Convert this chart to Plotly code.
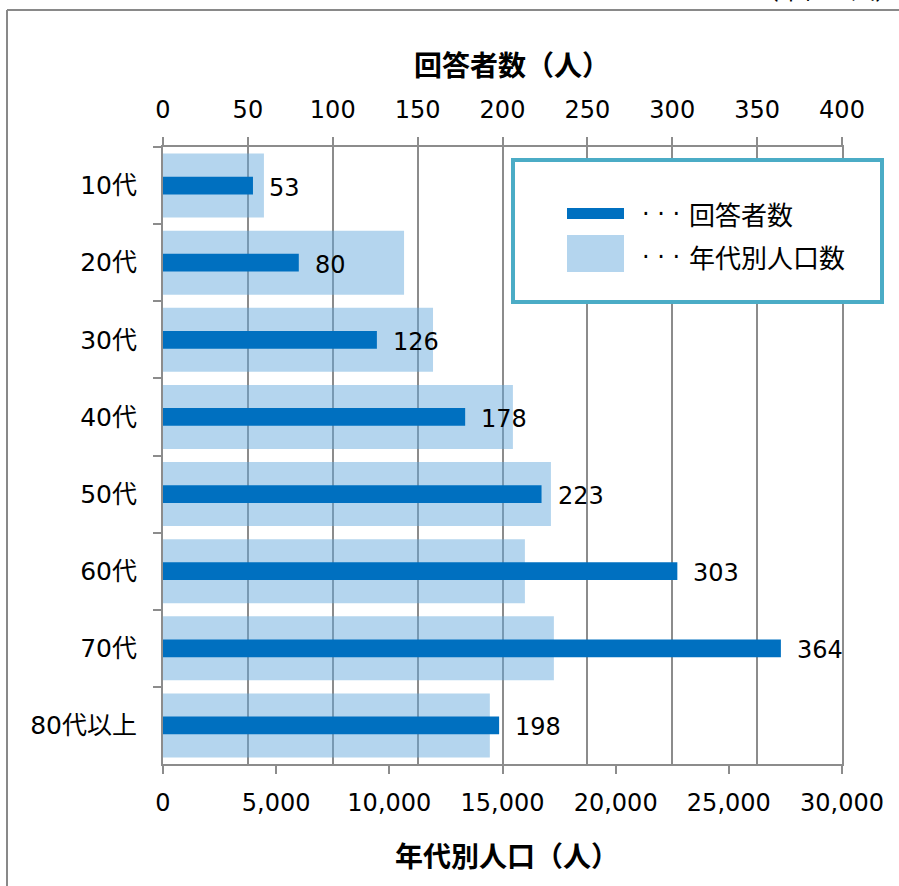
import plotly.graph_objects as go

categories = ["10代", "20代", "30代", "40代", "50代", "60代", "70代", "80代以上"]
respondents = [53, 80, 126, 178, 223, 303, 364, 198]
population = [4460, 10650, 11930, 15460, 17140, 15990, 17270, 14440]

top_title = "回答者数（人）"
bottom_title = "年代別人口（人）"
legend_names = ["回答者数", "年代別人口数"]
unit_note = "（単位：人）"

FONT = "DejaVu Sans, Noto Sans CJK JP, sans-serif"
CJK = "Noto Sans CJK JP, sans-serif"
DARK = "#0070C0"
LIGHT_RGBA = "rgba(99,167,220,0.48)"
GRID = "#8c8c8c"

fig = go.Figure()
fig.add_trace(go.Bar(
    y=categories, x=population, orientation="h", xaxis="x", yaxis="y",
    width=0.83, marker=dict(color=LIGHT_RGBA, line=dict(width=0)),
    name=legend_names[1], showlegend=False, hoverinfo="skip"))
fig.add_trace(go.Bar(
    y=categories, x=respondents, orientation="h", xaxis="x2", yaxis="y",
    width=0.23, marker=dict(color=DARK, line=dict(width=0)),
    name=legend_names[0], showlegend=False, hoverinfo="skip"))

annotations = []
for c, v in zip(categories, respondents):
    annotations.append(dict(x=v, y=c, xref="x2", yref="y", text=str(v),
                            showarrow=False, xanchor="left", yanchor="middle",
                            xshift=14, yshift=-2,
                            font=dict(family=FONT, size=24, color="black")))

# page body margin is removed below, so figure pixels == screenshot pixels
W, H = 899, 886
L, T = 163, 147
R = W - 842
B = H - 764
pw, ph = W - L - R, H - T - B

def px(x):
    return (x - L) / pw

def py(y):
    return (H - B - y) / ph

shapes = [
    dict(type="line", xref="paper", yref="paper", x0=px(7), x1=px(7),
         y0=py(900), y1=py(10), line=dict(color="#898989", width=2), layer="below"),
    dict(type="line", xref="paper", yref="paper", x0=px(7), x1=px(905),
         y0=py(10), y1=py(10), line=dict(color="#898989", width=2), layer="below"),
    dict(type="rect", xref="paper", yref="paper", x0=px(513), x1=px(882),
         y0=py(302), y1=py(160), line=dict(color="#4BACC6", width=4),
         fillcolor="white", layer="above"),
    dict(type="rect", xref="paper", yref="paper", x0=px(567), x1=px(624),
         y0=py(219), y1=py(208), line=dict(width=0), fillcolor=DARK, layer="above"),
    dict(type="rect", xref="paper", yref="paper", x0=px(567), x1=px(624),
         y0=py(272), y1=py(235), line=dict(width=0), fillcolor="#B4D5EE", layer="above"),
]
for name, yc in zip(legend_names, [213, 256]):
    annotations.append(dict(x=px(640), y=py(yc + 1), xref="paper", yref="paper", text="· · ·",
                            showarrow=False, xanchor="left", yanchor="middle",
                            font=dict(family=FONT, size=24, color="black")))
    annotations.append(dict(x=px(687), y=py(yc), xref="paper", yref="paper", text=name,
                            showarrow=False, xanchor="left", yanchor="middle",
                            font=dict(family=CJK, size=26, color="black")))
annotations += [
    dict(x=px(901), y=py(7), xref="paper", yref="paper", text=unit_note,
         showarrow=False, xanchor="right", yanchor="bottom",
         font=dict(family=FONT, size=24, color="black")),
    dict(x=px(512), y=py(64), xref="paper", yref="paper", text="<b>" + top_title + "</b>",
         showarrow=False, xanchor="center", yanchor="middle",
         font=dict(family=CJK, size=28, color="black")),
    dict(x=px(507), y=py(855), xref="paper", yref="paper", text="<b>" + bottom_title + "</b>",
         showarrow=False, xanchor="center", yanchor="middle",
         font=dict(family=CJK, size=28, color="black")),
]

fig.update_layout(
    width=W, height=H,
    margin=dict(l=L, r=R, t=T, b=B, pad=0),
    paper_bgcolor="white", plot_bgcolor="white",
    barmode="overlay",
    font=dict(family=FONT, size=24, color="black"),
    xaxis=dict(range=[0, 30000], dtick=5000, tickformat=",d",
               showline=True, linecolor=GRID, linewidth=2,
               ticks="outside", ticklen=8, tickwidth=2, tickcolor=GRID,
               showgrid=False, zeroline=False,
               tickfont=dict(size=24), ticklabelstandoff=8),
    xaxis2=dict(range=[0, 400], dtick=50, overlaying="x", side="top",
                showline=True, linecolor=GRID, linewidth=2,
                ticks="outside", ticklen=8, tickwidth=2, tickcolor=GRID,
                showgrid=True, gridcolor=GRID, gridwidth=2, zeroline=False,
                tickfont=dict(size=24), ticklabelstandoff=9),
    yaxis=dict(range=[7.5, -0.5], type="category",
               showline=True, linecolor=GRID, linewidth=2, mirror=True,
               ticks="outside", ticklen=8, tickwidth=2, tickcolor=GRID,
               tickson="boundaries", showgrid=False, zeroline=False,
               tickfont=dict(size=25), ticklabelstandoff=19),
    shapes=shapes,
    annotations=annotations,
)

fig.write_html("out.html",
               config={"displayModeBar": False, "staticPlot": True},
               post_script="document.body.style.margin='0';document.body.style.overflow='hidden';")
